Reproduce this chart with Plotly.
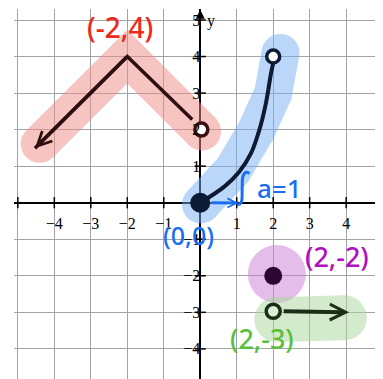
import plotly.graph_objects as go

# ---------------- data ----------------
x_tick_vals = [-5, -4, -3, -2, -1, 0, 1, 2, 3, 4, 5]
x_tick_text = ["", "−4", "−3", "−2", "−1", "", "1", "2", "3", "4", "5"]
y_tick_vals = [-4, -3, -2, -1, 0, 1, 2, 3, 4, 5]
y_tick_text = ["−4", "−3", "−2", "−1", "", "1", "2", "3", "4", "5"]

# piecewise "V" (arrow tip, vertex, end near open circle)
v_x = [-4.53, -2.0, -0.22]
v_y = [1.49, 4.0, 2.28]
v_open = (0.03, 2.0)

# curve from (0,0) to (2,4)
curve_x = [0.0, 0.66, 1.07, 1.39, 1.62, 1.80, 1.94, 2.0]
curve_y = [0.0, 0.44, 0.85, 1.35, 1.99, 2.72, 3.54, 3.82]
curve_start = (0.0, 0.0)
curve_open = (2.0, 4.0)

# isolated point and ray
point_filled = (2.0, -2.0)
ray_start = (2.0, -2.97)
ray_end = (4.08, -3.0)

# blue step mark ("a=1")
step_arrow_end = (1.05, -0.01)
step_x = [1.02, 1.12, 1.15, 1.17, 1.25, 1.35]
step_y = [-0.06, 0.0, 0.4, 0.72, 0.83, 0.8]

# highlighter strokes
pink_x = [-4.40, -2.0, 0.05]
pink_y = [1.61, 4.0, 1.95]
blue_x = [0.02, 0.9, 1.55, 2.0, 2.2]
blue_y = [-0.05, 0.9, 2.0, 3.0, 4.1]
purple_x = [2.1]
purple_y = [-1.95]
green_x = [2.1, 3.95]
green_y = [-3.2, -3.15]

# handwritten labels
notes = [
    ("(-2,4)", -2.2, 4.80, "#ee2a1c", 28),
    ("(0,0)", -0.31, -0.89, "#1a6ff0", 25),
    ("a=1", 2.17, 0.39, "#1a6ff0", 26),
    ("(2,-2)", 3.76, -1.47, "#b10fc0", 27),
    ("(2,-3)", 1.70, -3.73, "#5abf3a", 27),
]

X_RANGE = [-5.105, 5.01]
Y_RANGE = [-4.825, 5.301]

fig = go.Figure()

def highlight(xs, ys, color, width):
    fig.add_trace(go.Scatter(
        x=xs, y=ys, mode="lines+markers",
        line=dict(color=color, width=width),
        marker=dict(color=color, size=width, line=dict(width=0)),
        opacity=0.5, hoverinfo="skip", showlegend=False))

highlight(pink_x, pink_y, "#ef8d87", 38)
highlight(blue_x, blue_y, "#77aff5", 38)
highlight(purple_x, purple_y, "#cd7dd7", 58)
highlight(green_x, green_y, "#abd79b", 45)

# axis tick marks
fig.add_trace(go.Scatter(
    x=[v for v in x_tick_vals if v != 0], y=[0] * (len(x_tick_vals) - 1),
    mode="markers", marker=dict(symbol="line-ns", size=8, line=dict(color="black", width=1.5)),
    hoverinfo="skip", showlegend=False))
fig.add_trace(go.Scatter(
    x=[0] * (len(y_tick_vals) - 1), y=[v for v in y_tick_vals if v != 0],
    mode="markers", marker=dict(symbol="line-ew", size=8, line=dict(color="black", width=1.5)),
    hoverinfo="skip", showlegend=False))

# V shape
fig.add_trace(go.Scatter(x=v_x, y=v_y, mode="lines",
                         line=dict(color="#2e0d0d", width=3.5),
                         hoverinfo="skip", showlegend=False))
# curve
fig.add_trace(go.Scatter(x=curve_x, y=curve_y, mode="lines",
                         line=dict(color="#0c1a33", width=4, shape="spline"),
                         hoverinfo="skip", showlegend=False))
# blue step stroke
fig.add_trace(go.Scatter(x=step_x, y=step_y, mode="lines",
                         line=dict(color="#1a6ff0", width=3, shape="spline"),
                         hoverinfo="skip", showlegend=False))

# points
fig.add_trace(go.Scatter(x=[curve_start[0]], y=[curve_start[1]], mode="markers",
                         marker=dict(color="#0b1b36", size=20, line=dict(width=0)),
                         hoverinfo="skip", showlegend=False))
fig.add_trace(go.Scatter(x=[curve_open[0]], y=[curve_open[1]], mode="markers",
                         marker=dict(color="white", size=13, line=dict(color="#0c1a33", width=3.5)),
                         hoverinfo="skip", showlegend=False))
fig.add_trace(go.Scatter(x=[v_open[0]], y=[v_open[1]], mode="markers",
                         marker=dict(color="white", size=13, line=dict(color="#3b0f0f", width=3.5)),
                         hoverinfo="skip", showlegend=False))
fig.add_trace(go.Scatter(x=[point_filled[0]], y=[point_filled[1]], mode="markers",
                         marker=dict(color="#2e0632", size=18, line=dict(width=0)),
                         hoverinfo="skip", showlegend=False))
fig.add_trace(go.Scatter(x=[ray_start[0]], y=[ray_start[1]], mode="markers",
                         marker=dict(color="#dcefd5", size=14, line=dict(color="#1b2e18", width=3.5)),
                         hoverinfo="skip", showlegend=False))

annotations = []
# arrowheads
annotations.append(dict(x=v_x[0], y=v_y[0], ax=v_x[1], ay=v_y[1], xref="x", yref="y",
                        axref="x", ayref="y", text="", showarrow=True, arrowhead=5,
                        arrowsize=0.8, arrowwidth=3.5, arrowcolor="#2e0d0d"))
annotations.append(dict(x=ray_end[0], y=ray_end[1], ax=ray_start[0], ay=ray_start[1],
                        xref="x", yref="y", axref="x", ayref="y", text="", showarrow=True,
                        arrowhead=5, arrowsize=0.78, arrowwidth=4, arrowcolor="#1b2e18",
                        startstandoff=9))
annotations.append(dict(x=step_arrow_end[0], y=step_arrow_end[1], ax=curve_start[0], ay=curve_start[1],
                        xref="x", yref="y", axref="x", ayref="y", text="", showarrow=True,
                        arrowhead=5, arrowsize=0.6, arrowwidth=3, arrowcolor="#1a6ff0",
                        startstandoff=10))
annotations.append(dict(x=0, y=Y_RANGE[1] - 0.02, ax=0, ay=5.0, xref="x", yref="y",
                        axref="x", ayref="y", text="", showarrow=True, arrowhead=2,
                        arrowsize=1.2, arrowwidth=1.5, arrowcolor="black"))
# axis names
annotations.append(dict(x=0.12, y=4.97, xref="x", yref="y", text="y", showarrow=False,
                        xanchor="left", font=dict(family="Liberation Serif", size=16, color="black")))
annotations.append(dict(x=4.93, y=0.38, xref="x", yref="y", text="x", showarrow=False,
                        xanchor="left", font=dict(family="Liberation Serif", size=16, color="black")))
for txt, nx, ny, col, sz in notes:
    annotations.append(dict(x=nx, y=ny, xref="x", yref="y", text=txt, showarrow=False,
                            font=dict(family="Noto Sans", size=sz, color=col, weight=500)))

# The page body has an 8px margin, so the figure is sized to end at the window edge.
fig.update_layout(
    width=375, height=371, autosize=False,
    margin=dict(l=6, r=0, t=1, b=0, pad=0, autoexpand=False),
    paper_bgcolor="white", plot_bgcolor="white",
    showlegend=False,
    annotations=annotations,
    xaxis=dict(range=X_RANGE, tickmode="array", tickvals=x_tick_vals, ticktext=x_tick_text,
               showgrid=True, gridcolor="#a3a3a3", gridwidth=1,
               zeroline=True, zerolinecolor="black", zerolinewidth=2,
               showline=False, ticks="", anchor="free", ticklabelstandoff=9,
               automargin=False,
               position=(0 - Y_RANGE[0]) / (Y_RANGE[1] - Y_RANGE[0]),
               tickfont=dict(family="Liberation Serif", size=16, color="black"),
               ticklabeloverflow="allow", fixedrange=True),
    yaxis=dict(range=Y_RANGE, tickmode="array", tickvals=y_tick_vals, ticktext=y_tick_text,
               showgrid=True, gridcolor="#a3a3a3", gridwidth=1,
               zeroline=True, zerolinecolor="black", zerolinewidth=2,
               showline=False, ticks="", anchor="free", automargin=False,
               position=(0 - X_RANGE[0]) / (X_RANGE[1] - X_RANGE[0]),
               tickfont=dict(family="Liberation Serif", size=16, color="black"),
               ticklabeloverflow="allow", fixedrange=True),
)

fig.write_html("out.html", config={"displayModeBar": False})
